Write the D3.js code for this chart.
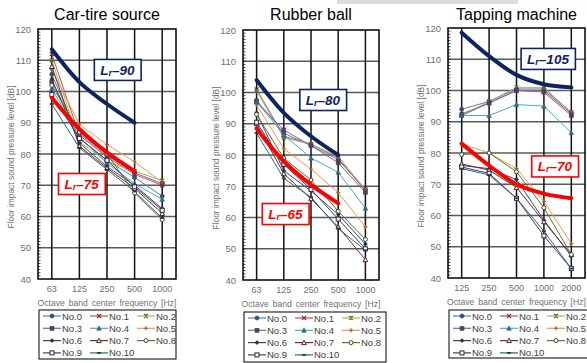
<!DOCTYPE html>
<html>
<head>
<meta charset="utf-8">
<script src="https://cdn.jsdelivr.net/npm/d3@7"></script>
<style>
  body { margin: 0; background: #fff; }
  svg { display: block; font-family: "Liberation Sans", Arial, sans-serif; }
</style>
</head>
<body>
<svg id="chart" width="587" height="363"></svg>
<script>
// series / legend
const seriesNames = ["No.0", "No.1", "No.2", "No.3", "No.4", "No.5", "No.6", "No.7", "No.8", "No.9", "No.10"];
const seriesColors = ["#4F81BD", "#C0504D", "#9BBB59", "#8064A2", "#4BACC6", "#F79646",
                      "#2C4D75", "#772C2A", "#5F7530", "#4D3B62", "#276A7C"];
const markerTypes = ["circle", "x", "star", "square", "triangle", "plus",
                     "diamond", "triangleOpen", "circleOpen", "squareOpen", "dash"];

const yTicks = [40, 50, 60, 70, 80, 90, 100, 110, 120];

// Car-tire source
const carTireFreqs = ["63", "125", "250", "500", "1000"];
const carTireLevels = [
  [105.5, 85, 78, 72.5, 66.5],
  [112, 86, 79, 73.5, 70],
  [110, 84, 77.5, 74.5, 71.5],
  [103, 86.5, 79.5, 74, 70.5],
  [101, 85.5, 77, 70.5, 65.5],
  [107, 89.5, 83, 77.5, 71],
  [104, 83.5, 76, 70, 62.5],
  [108, 82.5, 75.5, 69, 61],
  [102, 87, 80, 67.5, 59],
  [99, 85, 78, 69.5, 62],
  [96, 82, 75, 68, 59.5]
];
const carTireLrHigh = [113.5, 103, 96, 90];
const carTireLrLow = [98, 88, 80.5, 74.5];

// Rubber ball
const rubberFreqs = ["63", "125", "250", "500", "1000"];
const rubberLevels = [
  [97.5, 87, 83, 78.5, 69],
  [101, 86, 83.5, 79, 68.5],
  [100.5, 85.5, 83.5, 79.5, 69],
  [97, 88, 83, 77.5, 68],
  [97, 86.5, 79, 74.5, 63],
  [96, 82, 75.5, 68, 57],
  [93.5, 75, 68.5, 61, 51.5],
  [90, 74, 66, 57, 46.5],
  [93, 79, 72, 62, 53],
  [90.5, 77, 69, 59.5, 50],
  [87, 72.5, 66.5, 56.5, 49.5]
];
const rubberLrHigh = [104, 93.5, 86, 80];
const rubberLrLow = [88.5, 78, 70.5, 64.5];

// Tapping machine
const tappingFreqs = ["125", "250", "500", "1000", "2000"];
const tappingLevels = [
  [94, 96.5, 100.5, 100.5, 93],
  [92.5, 96, 100, 100, 92.5],
  [92, 96.5, 101, 101, 93],
  [92, 96, 100, 99.5, 92],
  [92, 92, 95.5, 95, 86.5],
  [83, 80, 75, 64.5, 51],
  [76, 75, 71.5, 58.5, 47],
  [76.5, 74.5, 69, 58, 47.5],
  [79.5, 80, 74, 62.5, 47.5],
  [75.5, 73.5, 65.5, 53.5, 43],
  [75, 73, 65.5, 55, 43]
];
const tappingLrHigh = [118.5, 111, 105, 102, 101];
const tappingLrLow = [83, 76, 70, 67, 65.5];

const panels = [
  { title: "Car-tire source", freqs: carTireFreqs, levels: carTireLevels,
    high: carTireLrHigh, low: carTireLrLow, highLabel: "90", lowLabel: "75",
    left: 38, right: 176, top: 29, bottom: 279,
    highAt: [2.38, 106.9], lowAt: [1.08, 70.4],
    legend: { x: 39, y: 310, w: 137, h: 49 } },
  { title: "Rubber ball", freqs: rubberFreqs, levels: rubberLevels,
    high: rubberLrHigh, low: rubberLrLow, highLabel: "80", lowLabel: "65",
    left: 243, right: 379, top: 30, bottom: 280,
    highAt: [2.44, 97.6], lowAt: [1.06, 61.1],
    legend: { x: 244, y: 312, w: 142, h: 50 } },
  { title: "Tapping machine", freqs: tappingFreqs, levels: tappingLevels,
    high: tappingLrHigh, low: tappingLrLow, highLabel: "105", lowLabel: "70",
    left: 448, right: 585, top: 28, bottom: 278,
    highAt: [3.15, 110.1], lowAt: [3.4, 75.7],
    legend: { x: 449, y: 310, w: 142, h: 48 } }
];

const svg = d3.select("#chart");

// light gray strip at the very top
svg.append("rect").attr("x", 337).attr("y", 0).attr("width", 181).attr("height", 4).attr("fill", "#dcdcdc");

function drawMarker(g, type, color, px, py) {
  const dark = d3.color(color).darker(1.3).formatHex();
  const r = 2;
  switch (type) {
    case "circle":
      g.append("circle").attr("cx", px).attr("cy", py).attr("r", r).attr("fill", dark).attr("stroke", dark).attr("stroke-width", 0.8);
      break;
    case "circleOpen":
      g.append("circle").attr("cx", px).attr("cy", py).attr("r", r).attr("fill", "#fff").attr("stroke", dark).attr("stroke-width", 1);
      break;
    case "square":
      g.append("rect").attr("x", px - r).attr("y", py - r).attr("width", 2 * r).attr("height", 2 * r).attr("fill", dark).attr("stroke", dark).attr("stroke-width", 0.6);
      break;
    case "squareOpen":
      g.append("rect").attr("x", px - r).attr("y", py - r).attr("width", 2 * r).attr("height", 2 * r).attr("fill", "#fff").attr("stroke", dark).attr("stroke-width", 1);
      break;
    case "triangle":
      g.append("path").attr("d", `M${px},${py - r - 0.4}L${px + r + 0.3},${py + r}L${px - r - 0.3},${py + r}Z`).attr("fill", dark).attr("stroke", dark).attr("stroke-width", 0.6);
      break;
    case "triangleOpen":
      g.append("path").attr("d", `M${px},${py - r - 0.4}L${px + r + 0.3},${py + r}L${px - r - 0.3},${py + r}Z`).attr("fill", "#fff").attr("stroke", dark).attr("stroke-width", 1);
      break;
    case "diamond":
      g.append("path").attr("d", `M${px},${py - r}L${px + r},${py}L${px},${py + r}L${px - r},${py}Z`).attr("fill", dark).attr("stroke", dark).attr("stroke-width", 0.6);
      break;
    case "x":
      g.append("path").attr("d", `M${px - r},${py - r}L${px + r},${py + r}M${px - r},${py + r}L${px + r},${py - r}`).attr("stroke", dark).attr("stroke-width", 1.1);
      break;
    case "star":
      g.append("path").attr("d", `M${px - r},${py - r}L${px + r},${py + r}M${px - r},${py + r}L${px + r},${py - r}M${px},${py - r}L${px},${py + r}`).attr("stroke", dark).attr("stroke-width", 1.1);
      break;
    case "plus":
      g.append("path").attr("d", `M${px},${py - r}L${px},${py + r}M${px - r},${py}L${px + r},${py}`).attr("stroke", dark).attr("stroke-width", 1.1);
      break;
    case "dash":
      g.append("path").attr("d", `M${px - r},${py}L${px + r},${py}`).attr("stroke", dark).attr("stroke-width", 1.8);
      break;
  }
}

function drawLabel(g, px, py, num, color) {
  const lg = g.append("g");
  const t = lg.append("text")
    .attr("x", px).attr("y", py)
    .attr("text-anchor", "middle").attr("dominant-baseline", "central")
    .attr("font-size", 13.5).attr("font-weight", "bold").attr("font-style", "italic")
    .attr("fill", color);
  t.append("tspan").text("L");
  t.append("tspan").attr("font-size", 9).attr("dy", 3).text("r");
  t.append("tspan").attr("dy", -3).text("\u2013" + num);
  const bb = t.node().getBBox();
  lg.insert("rect", "text")
    .attr("x", bb.x - 6).attr("y", py - 10.5)
    .attr("width", bb.width + 12).attr("height", 21)
    .attr("fill", "#fff").attr("stroke", color).attr("stroke-width", 1.6);
}

panels.forEach(p => {
  const g = svg.append("g");
  const x = d3.scaleBand().domain(p.freqs).range([p.left, p.right]);
  const y = d3.scaleLinear().domain([40, 120]).range([p.bottom, p.top]);
  const cx = i => x.range()[0] + x.step() * (i + 0.5);

  // title
  g.append("text")
    .attr("x", (p.left + p.right) / 2).attr("y", 20)
    .attr("text-anchor", "middle").attr("font-size", 16).attr("fill", "#000")
    .text(p.title);

  // horizontal grid
  g.append("g").selectAll("line").data(yTicks.slice(1, -1)).join("line")
    .attr("x1", p.left).attr("x2", p.right)
    .attr("y1", d => y(d)).attr("y2", d => y(d))
    .attr("stroke", "#5a5a5a").attr("stroke-width", 1.5);

  // vertical grid
  g.append("g").selectAll("line").data(p.freqs).join("line")
    .attr("x1", d => x(d) + x.bandwidth() / 2).attr("x2", d => x(d) + x.bandwidth() / 2)
    .attr("y1", p.top).attr("y2", p.bottom)
    .attr("stroke", "#111").attr("stroke-width", 1.5);

  // minor ticks on left axis
  g.append("g").selectAll("line").data(d3.range(41, 120)).join("line")
    .attr("x1", p.left).attr("x2", p.left + 2.5)
    .attr("y1", d => y(d)).attr("y2", d => y(d))
    .attr("stroke", "#222").attr("stroke-width", 0.8);

  // frame
  g.append("rect")
    .attr("x", p.left).attr("y", p.top)
    .attr("width", p.right - p.left).attr("height", p.bottom - p.top)
    .attr("fill", "none").attr("stroke", "#000").attr("stroke-width", 1.5);

  // y axis labels
  const ya = g.append("g")
    .attr("transform", `translate(${p.left},0)`)
    .call(d3.axisLeft(y).tickValues(yTicks).tickSize(0).tickPadding(7));
  ya.select(".domain").remove();
  ya.selectAll("text").attr("font-size", 9.5).attr("fill", "#707070")
    .attr("font-family", "'Liberation Sans', Arial, sans-serif");

  // x axis labels
  const xa = g.append("g")
    .attr("transform", `translate(0,${p.bottom})`)
    .call(d3.axisBottom(x).tickSize(0).tickPadding(7));
  xa.select(".domain").remove();
  xa.selectAll("text").attr("font-size", 9).attr("fill", "#707070")
    .attr("font-family", "'Liberation Sans', Arial, sans-serif");

  // axis titles
  g.append("text")
    .attr("x", (p.left + p.right) / 2).attr("y", p.bottom + 27)
    .attr("text-anchor", "middle").attr("font-size", 8.6).attr("fill", "#707070")
    .attr("word-spacing", 1.5)
    .text("Octave band center frequency [Hz]");
  g.append("text")
    .attr("transform", `translate(${p.left - 24},${(p.top + p.bottom) / 2 + 3}) rotate(-90)`)
    .attr("text-anchor", "middle").attr("font-size", 8.4).attr("fill", "#707070")
    .text("Floor impact sound pressure level [dB]");

  // data series
  const line = d3.line().x((d, i) => cx(i)).y(d => y(d));
  p.levels.forEach((vals, s) => {
    g.append("path").attr("d", line(vals))
      .attr("fill", "none").attr("stroke", seriesColors[s]).attr("stroke-width", 1);
  });
  p.levels.forEach((vals, s) => {
    const mg = g.append("g");
    vals.forEach((v, i) => drawMarker(mg, markerTypes[s], seriesColors[s], cx(i), y(v)));
  });

  // reference curves
  const smooth = d3.line().x((d, i) => cx(i)).y(d => y(d)).curve(d3.curveCatmullRom.alpha(0.5));
  g.append("path").attr("d", smooth(p.low))
    .attr("fill", "none").attr("stroke", "#ff0000").attr("stroke-width", 4).attr("stroke-linecap", "round");
  g.append("path").attr("d", smooth(p.high))
    .attr("fill", "none").attr("stroke", "#0d2460").attr("stroke-width", 4).attr("stroke-linecap", "round");

  drawLabel(g, x.range()[0] + x.step() * (p.highAt[0] + 0.5), y(p.highAt[1]), p.highLabel, "#0d2460");
  drawLabel(g, x.range()[0] + x.step() * (p.lowAt[0] + 0.5), y(p.lowAt[1]), p.lowLabel, "#ff0000");

  // legend
  const L = p.legend;
  const lg = g.append("g").attr("transform", `translate(${L.x},${L.y})`);
  lg.append("rect").attr("width", L.w).attr("height", L.h)
    .attr("fill", "#fff").attr("stroke", "#000").attr("stroke-width", 1);
  seriesNames.forEach((name, s) => {
    const col = s % 3, row = Math.floor(s / 3);
    const lx = 4 + col * 47, ly = 6 + row * 12.3;
    lg.append("line").attr("x1", lx).attr("x2", lx + 18).attr("y1", ly).attr("y2", ly)
      .attr("stroke", seriesColors[s]).attr("stroke-width", 1.2);
    drawMarker(lg, markerTypes[s], seriesColors[s], lx + 9, ly);
    lg.append("text").attr("x", lx + 19).attr("y", ly).attr("dominant-baseline", "central")
      .attr("font-size", 9.5).attr("fill", "#404040").text(name);
  });
});
</script>
</body>
</html>
